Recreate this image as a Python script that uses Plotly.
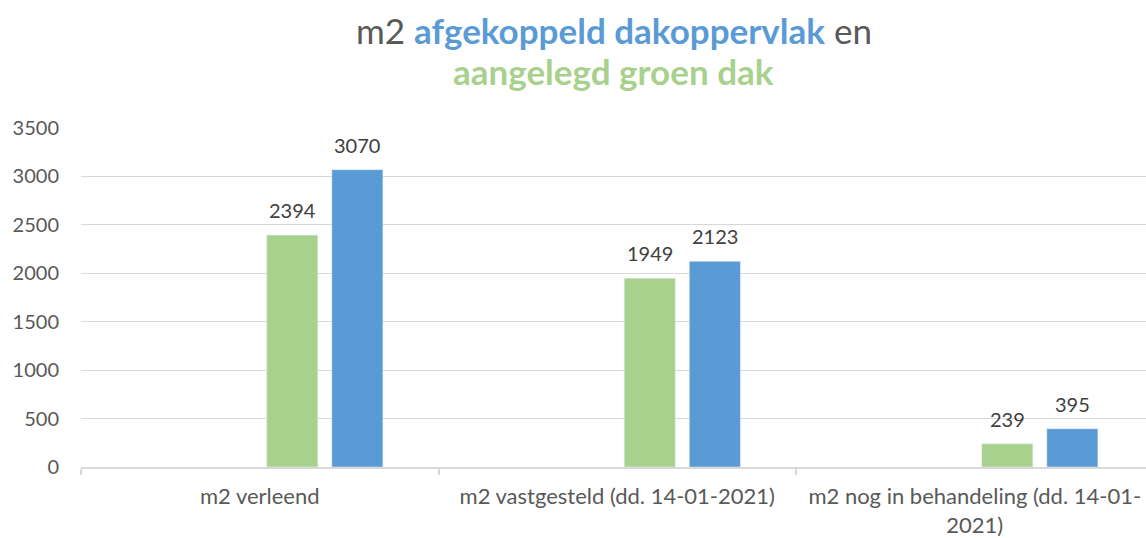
import plotly.graph_objects as go

categories = ["m2 verleend", "m2 vastgesteld (dd. 14-01-2021)", "m2 nog in behandeling (dd. 14-01-2021)"]
tick_labels = ["m2 verleend", "m2 vastgesteld (dd. 14-01-2021)", "m2 nog in behandeling (dd. 14-01-<br>2021)"]
empty_a = [None, None, None]
empty_b = [None, None, None]
groen_dak = [2394, 1949, 239]
afgekoppeld = [3070, 2123, 395]

GREEN = "#A9D18E"
BLUE = "#5B9BD5"
TEXT = "#595959"
LABEL = "#404040"
FONT = "Lato"
BARGAP = 0.272
BARGROUPGAP = 0.215
N_SLOTS = 4

fig = go.Figure()
fig.add_trace(go.Bar(x=categories, y=empty_a, name="a", marker_color=GREEN, showlegend=False))
fig.add_trace(go.Bar(x=categories, y=empty_b, name="b", marker_color=BLUE, showlegend=False))
fig.add_trace(go.Bar(x=categories, y=groen_dak, name="aangelegd groen dak", marker_color=GREEN, showlegend=False))
fig.add_trace(go.Bar(x=categories, y=afgekoppeld, name="afgekoppeld dakoppervlak", marker_color=BLUE, showlegend=False))

# data labels above bars (slot offsets derived from the bar layout)
slot = (1 - BARGAP) / N_SLOTS
annotations = []
for series, slot_idx in ((groen_dak, 2), (afgekoppeld, 3)):
    off = (slot_idx - (N_SLOTS - 1) / 2) * slot
    for i, v in enumerate(series):
        annotations.append(dict(
            x=i + off, y=v, xref="x", yref="y", text=str(v), showarrow=False,
            xanchor="center", yanchor="bottom", yshift=11,
            font=dict(size=20, color=LABEL, family=FONT)))

annotations += [
    dict(text="m2 <b><span style='color:%s'>afgekoppeld dakoppervlak</span></b> en" % BLUE,
         x=0.5, xref="paper", y=1.29, yref="paper", xanchor="center", yanchor="middle",
         showarrow=False, font=dict(size=35, color=TEXT, family=FONT)),
    dict(text="<b><span style='color:%s'>aangelegd groen dak</span></b>" % GREEN,
         x=0.5, xref="paper", y=1.168, yref="paper", xanchor="center", yanchor="middle",
         showarrow=False, font=dict(size=35, color=TEXT, family=FONT)),
]

fig.update_layout(
    width=1146, height=538,
    margin=dict(l=81, r=0, t=128, b=71),
    paper_bgcolor="white", plot_bgcolor="white",
    barmode="group", bargap=BARGAP, bargroupgap=BARGROUPGAP,
    font=dict(family=FONT, color=TEXT, size=20),
    annotations=annotations,
    xaxis=dict(
        type="category", range=[-0.5, 2.479],
        tickmode="array", tickvals=categories, ticktext=tick_labels,
        tickson="boundaries", ticks="outside", ticklen=6, tickcolor="#D9D9D9", tickwidth=1.5,
        showline=True, linecolor="#D9D9D9", linewidth=1.5, ticklabelstandoff=9,
        showgrid=False, tickfont=dict(size=22, color=TEXT, family=FONT),
    ),
    yaxis=dict(
        range=[0, 3500], dtick=500, tick0=0,
        showgrid=True, gridcolor="#D9D9D9", gridwidth=1.3,
        zeroline=False, showline=False, ticks="", ticklabelstandoff=21,
        tickfont=dict(size=20, color=TEXT, family=FONT),
    ),
)

fig.write_html("out.html", config={"displayModeBar": False},
               post_script="document.body.style.margin='0';document.body.style.overflow='hidden';")
